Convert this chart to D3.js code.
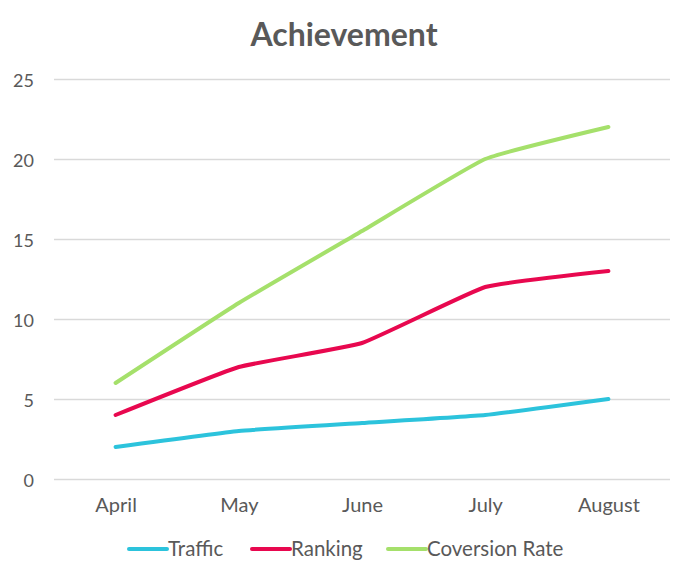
<!DOCTYPE html>
<html>
<head>
<meta charset="utf-8">
<script src="https://cdn.jsdelivr.net/npm/d3@7"></script>
<style>
  body { margin: 0; background: #fff; }
  text { font-family: Lato, "Open Sans", sans-serif; fill: #595959; }
</style>
</head>
<body>
<svg id="chart"></svg>
<script>
const width = 690;
const height = 579;

// data
const months = ["April", "May", "June", "July", "August"];
const traffic = [2, 3, 3.5, 4, 5];
const ranking = [4, 7, 8.5, 12, 13];
const conversion = [6, 11, 15.5, 20, 22];
const yTicks = [0, 5, 10, 15, 20, 25];
const seriesNames = ["Traffic", "Ranking", "Coversion Rate"];
const seriesColors = ["#2cc3dc", "#e8084f", "#a5e06b"];

const series = [traffic, ranking, conversion];

let svg = d3.select("#chart")
  .attr("width", width)
  .attr("height", height);

// title
svg.append("text")
  .attr("x", 344)
  .attr("y", 46)
  .attr("text-anchor", "middle")
  .style("font-size", "32px")
  .style("font-weight", "bold")
  .text("Achievement");

let x = d3.scalePoint()
  .domain(months)
  .range([54, 670])
  .padding(0.5);

let y = d3.scaleLinear()
  .domain([0, 25])
  .range([479, 79]);

// gridlines + y labels
let yAxis = d3.axisLeft(y)
  .tickValues(yTicks)
  .tickSize(-(670 - 54))
  .tickPadding(20);

let gy = svg.append("g")
  .attr("transform", "translate(54,0)")
  .call(yAxis);
gy.select(".domain").remove();
gy.selectAll(".tick line").attr("stroke", "#d9d9d9").attr("stroke-width", 1.5);
gy.selectAll(".tick text")
  .style("font-size", "18px")
  .attr("dy", "0.4em");

// x labels
let xAxis = d3.axisBottom(x).tickSize(0).tickPadding(19);
let gx = svg.append("g")
  .attr("transform", "translate(0,479)")
  .call(xAxis);
gx.select(".domain").remove();
gx.selectAll(".tick text").style("font-size", "20px");

// lines
let line = d3.line()
  .x((d, i) => x(months[i]))
  .y(d => y(d))
  .curve(d3.curveCardinal.tension(0.65));

svg.append("g")
  .selectAll("path")
  .data(series)
  .enter()
  .append("path")
  .attr("d", line)
  .attr("fill", "none")
  .attr("stroke", (d, i) => seriesColors[i])
  .attr("stroke-width", 4)
  .attr("stroke-linecap", "round")
  .attr("stroke-linejoin", "round");

// legend
const legendX = [129, 252, 388];
let legend = svg.append("g")
  .selectAll("g")
  .data(seriesNames)
  .enter()
  .append("g")
  .attr("transform", (d, i) => "translate(" + legendX[i] + ",549)");

legend.append("line")
  .attr("x1", 0)
  .attr("x2", 38)
  .attr("stroke", (d, i) => seriesColors[i])
  .attr("stroke-width", 4)
  .attr("stroke-linecap", "round");

legend.append("text")
  .attr("x", 39)
  .attr("dy", "0.35em")
  .style("font-size", "20.5px")
  .text(d => d);
</script>
</body>
</html>
